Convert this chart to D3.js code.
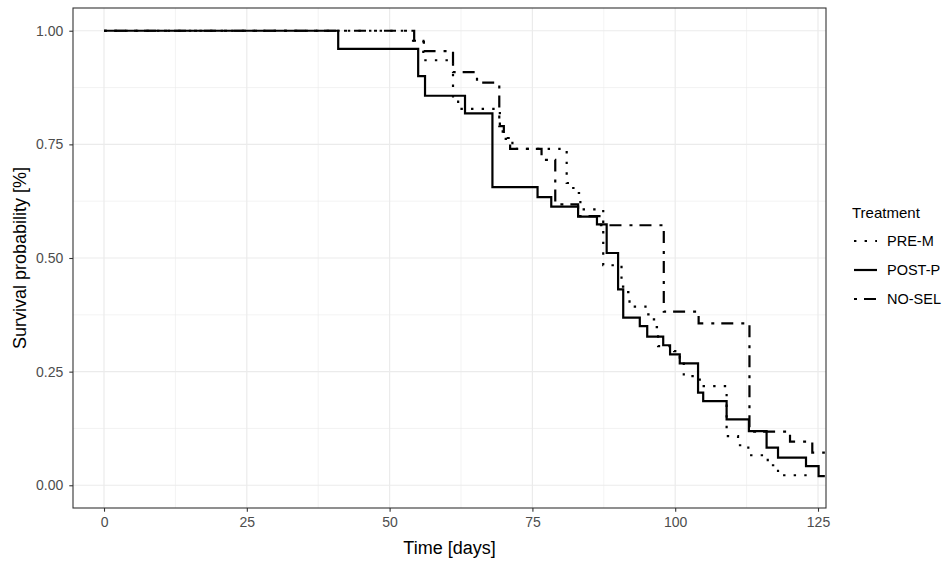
<!DOCTYPE html>
<html>
<head>
<meta charset="utf-8">
<script src="https://cdn.jsdelivr.net/npm/d3@7"></script>
<style>
  html, body { margin: 0; padding: 0; background: #ffffff; }
  svg { display: block; font-family: "Liberation Sans", Arial, sans-serif; }
</style>
</head>
<body>
<svg id="chart" width="949" height="562"></svg>
<script>
// Kaplan-Meier survival estimates per treatment (time in days, survival proportion)
const preMTime = [0, 54.1, 55.9, 61.1, 62.0, 69.3, 69.8, 71.5, 81.0, 81.8, 82.6, 83.4, 87.4, 90.6, 91.5, 92.0, 94.8, 95.6, 96.3, 97.0, 99.8, 100.8, 101.5, 104.3, 109.0, 111.0, 112.8, 116.2, 118.0];
const preMSurv = [1.000, 0.978, 0.935, 0.850, 0.828, 0.785, 0.762, 0.740, 0.665, 0.654, 0.643, 0.607, 0.484, 0.437, 0.425, 0.393, 0.376, 0.365, 0.348, 0.306, 0.295, 0.281, 0.240, 0.218, 0.108, 0.088, 0.066, 0.044, 0.022];
const preMEnd = 123.2;

const postPTime = [0, 41.0, 55.0, 56.2, 63.2, 68.0, 75.9, 78.3, 83.0, 86.3, 88.0, 90.0, 90.9, 93.8, 95.1, 97.9, 99.1, 100.8, 104.0, 104.9, 109.0, 112.9, 116.0, 118.0, 122.9, 125.1];
const postPSurv = [1.000, 0.960, 0.900, 0.857, 0.818, 0.656, 0.634, 0.613, 0.591, 0.574, 0.511, 0.431, 0.369, 0.350, 0.327, 0.308, 0.288, 0.268, 0.204, 0.185, 0.145, 0.119, 0.083, 0.061, 0.042, 0.020];
const postPEnd = 126.2;

const noSelTime = [0, 54.3, 56.0, 61.1, 65.3, 69.2, 70.0, 71.1, 76.6, 79.0, 83.0, 87.0, 98.0, 104.1, 113.0, 120.1, 124.0];
const noSelSurv = [1.000, 0.978, 0.955, 0.909, 0.886, 0.790, 0.764, 0.740, 0.716, 0.618, 0.592, 0.572, 0.382, 0.356, 0.118, 0.096, 0.072];
const noSelEnd = 126.2;

const treatments = ["PRE-M", "POST-P", "NO-SEL"];
const xTicks = [0, 25, 50, 75, 100, 125];
const yTicks = [0, 0.25, 0.5, 0.75, 1];
const xMinor = [12.5, 37.5, 62.5, 87.5, 112.5];
const yMinor = [0.125, 0.375, 0.625, 0.875];

const series = [
  { name: treatments[0], time: preMTime, surv: preMSurv, end: preMEnd, dash: "2.4,8.2" },
  { name: treatments[1], time: postPTime, surv: postPSurv, end: postPEnd, dash: null },
  { name: treatments[2], time: noSelTime, surv: noSelSurv, end: noSelEnd, dash: "3,7,12,8" }
];

const svg = d3.select("#chart");
const panel = { left: 73, right: 826, top: 8, bottom: 508 };

const x = d3.scaleLinear().domain([-5.43, 126.4]).range([panel.left, panel.right]);
const y = d3.scaleLinear().domain([-0.05, 1.05]).range([panel.bottom, panel.top]);

svg.append("rect").attr("width", 949).attr("height", 562).attr("fill", "#ffffff");

// grid
const grid = svg.append("g");
grid.selectAll(".xminor").data(xMinor).join("line")
  .attr("x1", d => x(d)).attr("x2", d => x(d))
  .attr("y1", panel.top).attr("y2", panel.bottom)
  .attr("stroke", "#ebebeb").attr("stroke-width", 0.6);
grid.selectAll(".yminor").data(yMinor).join("line")
  .attr("x1", panel.left).attr("x2", panel.right)
  .attr("y1", d => y(d)).attr("y2", d => y(d))
  .attr("stroke", "#ebebeb").attr("stroke-width", 0.6);
grid.selectAll(".xmajor").data(xTicks).join("line")
  .attr("x1", d => x(d)).attr("x2", d => x(d))
  .attr("y1", panel.top).attr("y2", panel.bottom)
  .attr("stroke", "#ebebeb").attr("stroke-width", 1.2);
grid.selectAll(".ymajor").data(yTicks).join("line")
  .attr("x1", panel.left).attr("x2", panel.right)
  .attr("y1", d => y(d)).attr("y2", d => y(d))
  .attr("stroke", "#ebebeb").attr("stroke-width", 1.2);

// survival curves
const line = d3.line().x(d => x(d[0])).y(d => y(d[1])).curve(d3.curveStepAfter);
const plot = svg.append("g");
series.forEach(s => {
  const pts = s.time.map((t, i) => [t, s.surv[i]]);
  pts.push([s.end, s.surv[s.surv.length - 1]]);
  plot.append("path")
    .datum(pts)
    .attr("d", line)
    .attr("fill", "none")
    .attr("stroke", "#000000")
    .attr("stroke-width", 2.2)
    .attr("stroke-linecap", "butt")
    .attr("stroke-dasharray", s.dash);
});

// panel border
svg.append("rect")
  .attr("x", panel.left).attr("y", panel.top)
  .attr("width", panel.right - panel.left).attr("height", panel.bottom - panel.top)
  .attr("fill", "none").attr("stroke", "#333333").attr("stroke-width", 1.1);

// axes
const xAxis = d3.axisBottom(x).tickValues(xTicks).tickFormat(d3.format("d")).tickSize(3.7).tickPadding(5);
const yAxis = d3.axisLeft(y).tickValues(yTicks).tickFormat(d3.format(".2f")).tickSize(3.7).tickPadding(6);

const gx = svg.append("g").attr("transform", `translate(0,${panel.bottom})`).call(xAxis);
const gy = svg.append("g").attr("transform", `translate(${panel.left},0)`).call(yAxis);
[gx, gy].forEach(g => {
  g.select(".domain").remove();
  g.selectAll(".tick line").attr("stroke", "#333333").attr("stroke-width", 1.1);
  g.selectAll(".tick text").attr("fill", "#4d4d4d").style("font-size", "14px")
    .style("font-family", "'Liberation Sans', Arial, sans-serif");
});

svg.append("text")
  .attr("x", (panel.left + panel.right) / 2).attr("y", 554)
  .attr("text-anchor", "middle").attr("fill", "#000")
  .style("font-size", "18px").text("Time [days]");

svg.append("text")
  .attr("transform", `translate(26,${(panel.top + panel.bottom) / 2}) rotate(-90)`)
  .attr("text-anchor", "middle").attr("fill", "#000")
  .style("font-size", "18px").text("Survival probability [%]");

// legend
const legend = svg.append("g").attr("transform", "translate(853,0)");
legend.append("text").attr("x", -1).attr("y", 218)
  .attr("fill", "#000").style("font-size", "15px").text("Treatment");
const rowY = d3.scalePoint().domain(treatments).range([241, 299]);
series.forEach(s => {
  const cy = rowY(s.name);
  legend.append("line")
    .attr("x1", 1).attr("x2", 24).attr("y1", cy).attr("y2", cy)
    .attr("stroke", "#000").attr("stroke-width", 2.2)
    .attr("stroke-linecap", "butt")
    .attr("stroke-dasharray", s.dash);
  legend.append("text").attr("x", 34).attr("y", cy + 5)
    .attr("fill", "#000").style("font-size", "14.5px").text(s.name);
});
</script>
</body>
</html>
